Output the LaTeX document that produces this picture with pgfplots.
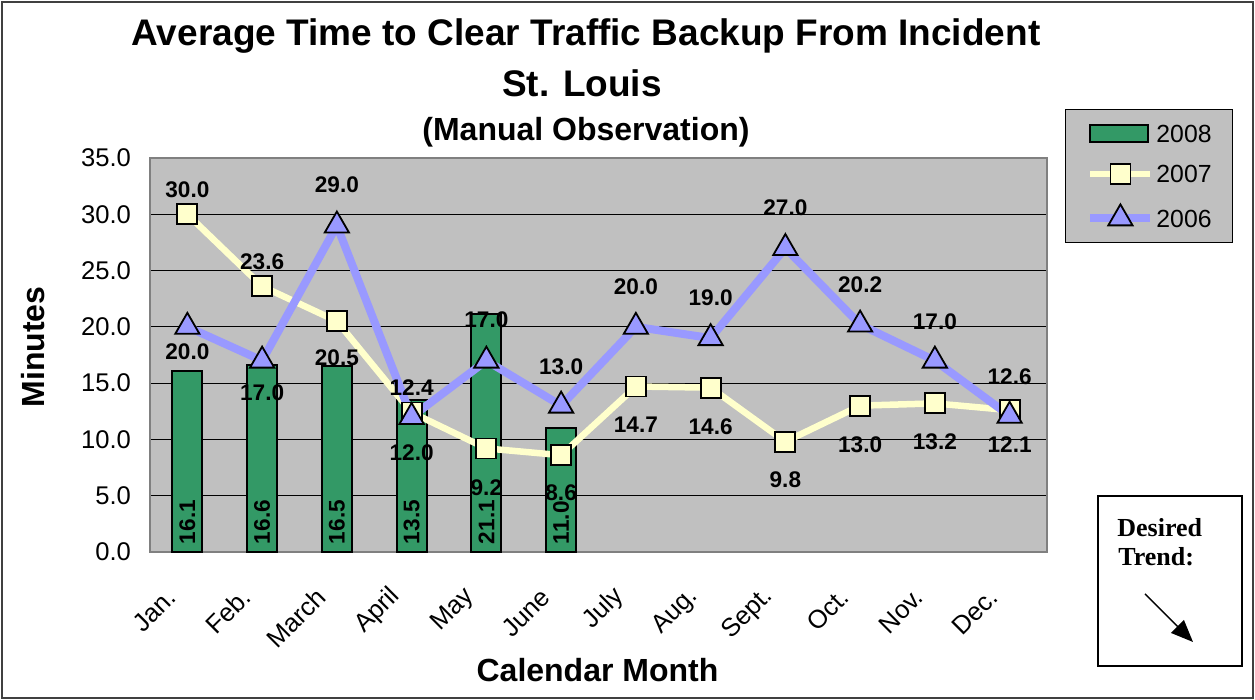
\documentclass[border=0pt]{standalone}
\usepackage{fontspec}
\setmainfont{Liberation Sans}
\newfontfamily\serifbold{Liberation Serif}
\usepackage{pgfplots}
\pgfplotsset{compat=1.18}
\usepackage{pgfplotstable}
\usetikzlibrary{arrows.meta}

\definecolor{plotgray}{RGB}{192,192,192}
\definecolor{bargreen}{RGB}{51,153,102}
\definecolor{pale}{RGB}{255,255,204}
\definecolor{lilac}{RGB}{153,153,255}
\definecolor{edgegray}{RGB}{128,128,128}

\pgfplotsset{
  barlegend/.style={legend image code/.code={\draw[##1,/tikz/.cd] (0pt,-4.25pt) rectangle (29pt,4.25pt);}},
  linelegend/.style={legend image code/.code={\draw[mark repeat=2, mark phase=2, ##1] plot coordinates {(0pt,0pt) (15pt,0pt) (30pt,0pt)};}},
}

% value, and y where its label sits
\pgfplotstableread{
x v08 ly
0 16.1 0.67
1 16.6 0.67
2 16.5 0.67
3 13.5 0.67
4 21.1 0.67
5 11.0 0.67
}\tbleight

\pgfplotstableread{
x v07 ly
0 30.0 32.16
1 23.6 25.76
2 20.5 17.23
3 12.4 14.57
4 9.2 5.69
5 8.6 5.24
6 14.7 11.28
7 14.6 11.10
8 9.8 6.40
9 13.0 9.51
10 13.2 9.77
11 12.6 15.55
}\tblseven

\pgfplotstableread{
x v06 ly
0 20.0 17.77
1 17.0 14.12
2 29.0 32.60
3 12.0 8.79
4 17.0 20.61
5 13.0 16.43
6 20.0 23.54
7 19.0 22.56
8 27.0 30.56
9 20.2 23.72
10 17.0 20.43
11 12.1 9.51
}\tblsix

\begin{document}
\begin{tikzpicture}
\useasboundingbox (0pt,0pt) rectangle (627.5pt,350pt);
\draw[line width=1pt, black!75] (1pt,1pt) rectangle (626.5pt,349pt);

\begin{axis}[
  at={(75pt,74pt)}, anchor=south west,
  scale only axis, width=448.5pt, height=197pt,
  xmin=-0.5, xmax=11.5, ymin=0, ymax=35,
  axis background/.style={fill=plotgray},
  axis line style={draw=edgegray, line width=1pt},
  ymajorgrids, grid style={black, line width=0.6pt},
  major tick length=0pt,
  clip=false,
  xtick={0,...,11},
  xticklabels={Jan.,Feb.,March,April,May,June,July,Aug.,Sept.,Oct.,Nov.,Dec.},
  xticklabel style={xshift=-5.5pt, yshift=-18pt, rotate=45, anchor=east, font=\fontsize{12.8}{15}\selectfont},
  ytick={0,5,...,35},
  yticklabel style={/pgf/number format/fixed, /pgf/number format/fixed zerofill, /pgf/number format/precision=1, font=\fontsize{12.8}{15}\selectfont, xshift=-6pt},
  /pgf/number format/assume math mode=true,
  legend cell align=left,
  legend style={at={(1.0201,1.1244)}, anchor=north west, fill=plotgray, draw=black,
    font=\fontsize{12.4}{14}\selectfont, inner xsep=10.5pt, inner ysep=7.5pt, row sep=10.25pt,
    nodes={inner sep=0pt, text height=9pt, text depth=0pt},
    /tikz/every odd column/.append style={column sep=1pt}},
]
\addplot[ybar, bar width=15pt, fill=bargreen, draw=black, line width=1pt, barlegend]
  table[x=x, y=v08] {\tbleight};
\addlegendentry{2008\hspace{7pt}}

\addplot[color=pale, line width=3.25pt, mark=square*, mark size=5pt,
  mark options={fill=pale, draw=black, line width=0.9pt, solid}, linelegend]
  table[x=x, y=v07] {\tblseven};
\addlegendentry{2007}

\addplot[color=lilac, line width=4pt, mark=triangle*, mark size=7pt,
  mark options={fill=lilac, draw=black, line width=0.9pt, solid}, linelegend]
  table[x=x, y=v06] {\tblsix};
\addlegendentry{2006}

% value labels
\addplot[forget plot, draw=none, mark=none, nodes near coords, point meta=explicit symbolic,
  nodes near coords align={anchor=west},
  every node near coord/.append style={rotate=90, inner sep=0pt, font=\bfseries\fontsize{11.3}{13}\selectfont}]
  table[x=x, y=ly, meta=v08] {\tbleight};
\addplot[forget plot, draw=none, mark=none, nodes near coords, point meta=explicit symbolic,
  nodes near coords align={anchor=center},
  every node near coord/.append style={inner sep=0pt, font=\bfseries\fontsize{11.3}{13}\selectfont}]
  table[x=x, y=ly, meta=v07] {\tblseven};
\addplot[forget plot, draw=none, mark=none, nodes near coords, point meta=explicit symbolic,
  nodes near coords align={anchor=center},
  every node near coord/.append style={inner sep=0pt, font=\bfseries\fontsize{11.3}{13}\selectfont}]
  table[x=x, y=ly, meta=v06] {\tblsix};
\end{axis}

\node[anchor=base, font=\bfseries\fontsize{18.5}{22}\selectfont] at (293pt,327pt) {Average Time to Clear Traffic Backup From Incident};
\node[anchor=base, font=\bfseries\fontsize{18.5}{22}\selectfont] at (291pt,301.5pt) {St. Louis};
\node[anchor=base, font=\bfseries\fontsize{16}{19}\selectfont] at (293pt,279.5pt) {(Manual Observation)};
\node[anchor=base, font=\bfseries\fontsize{16}{19}\selectfont] at (298.75pt,9pt) {Calendar Month};
\node[anchor=base, rotate=90, font=\bfseries\fontsize{16}{19}\selectfont] at (22pt,176.5pt) {Minutes};

\draw[line width=1pt] (549pt,17pt) rectangle (621pt,102pt);
\node[anchor=base west, inner sep=0pt, font=\serifbold\bfseries\fontsize{13}{15}\selectfont] at (558.5pt,81.5pt) {Desired};
\node[anchor=base west, inner sep=0pt, font=\serifbold\bfseries\fontsize{13}{15}\selectfont] at (559pt,67pt) {Trend:};
\draw[line width=0.7pt, -{Triangle[length=11pt,width=9pt]}] (572.5pt,53pt) -- (596.5pt,29pt);
\end{tikzpicture}
\end{document}
